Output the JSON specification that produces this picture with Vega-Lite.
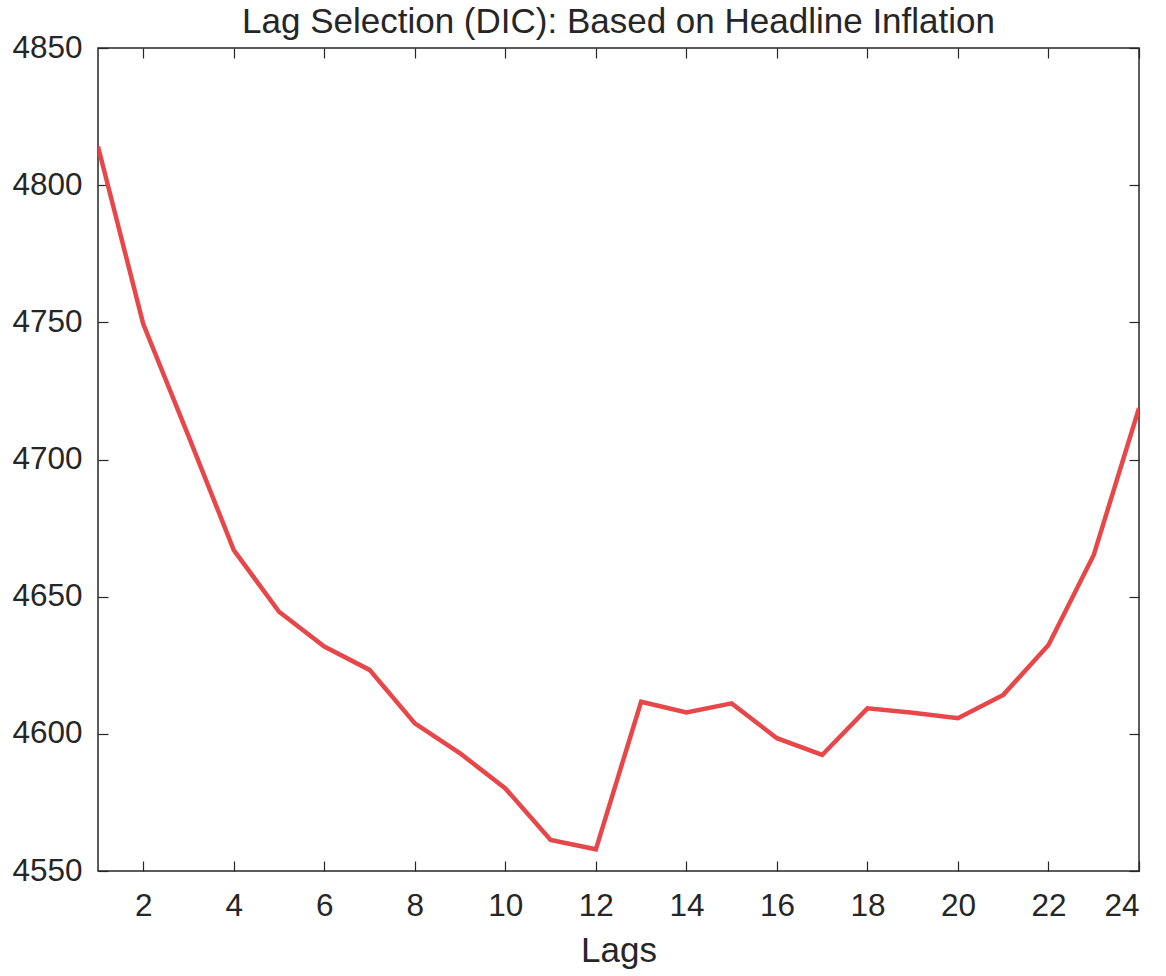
{
  "$schema": "https://vega.github.io/schema/vega-lite/v6.json",
  "autosize": {"type": "none"},
  "padding": {"left": 98, "top": 48, "right": 27, "bottom": 105},
  "width": 1041,
  "height": 823,
  "background": "white",
  "title": {
    "text": "Lag Selection (DIC): Based on Headline Inflation",
    "font": "Liberation Sans",
    "fontSize": 35,
    "fontWeight": "normal",
    "color": "#262626",
    "anchor": "middle",
    "frame": "group",
    "baseline": "alphabetic",
    "offset": -36
  },
  "config": {
    "view": {"stroke": "#262626", "strokeWidth": 1.5},
    "axis": {
      "labelFont": "Liberation Sans",
      "labelFontSize": 31.5,
      "labelColor": "#262626",
      "titleFont": "Liberation Sans",
      "titleFontSize": 35,
      "titleFontWeight": "normal",
      "titleColor": "#262626",
      "tickColor": "#262626",
      "tickWidth": 1.2,
      "tickSize": -10,
      "domain": false,
      "grid": false,
      "format": "d",
      "minExtent": 0
    }
  },
  "data": {
    "values": [
      {"lag": 1, "dic": 4814.1},
      {"lag": 2, "dic": 4749.4},
      {"lag": 3, "dic": 4708.5},
      {"lag": 4, "dic": 4667.0},
      {"lag": 5, "dic": 4644.5},
      {"lag": 6, "dic": 4631.8},
      {"lag": 7, "dic": 4623.3},
      {"lag": 8, "dic": 4603.8},
      {"lag": 9, "dic": 4592.9},
      {"lag": 10, "dic": 4580.1},
      {"lag": 11, "dic": 4561.3},
      {"lag": 12, "dic": 4557.9},
      {"lag": 13, "dic": 4611.7},
      {"lag": 14, "dic": 4607.8},
      {"lag": 15, "dic": 4611.1},
      {"lag": 16, "dic": 4598.4},
      {"lag": 17, "dic": 4592.3},
      {"lag": 18, "dic": 4609.3},
      {"lag": 19, "dic": 4607.7},
      {"lag": 20, "dic": 4605.7},
      {"lag": 21, "dic": 4614.2},
      {"lag": 22, "dic": 4632.4},
      {"lag": 23, "dic": 4665.2},
      {"lag": 24, "dic": 4718.7}
    ]
  },
  "layer": [
    {
      "mark": {"type": "line", "color": "#e8474a", "strokeWidth": 4.5, "clip": true},
      "encoding": {
        "x": {
          "field": "lag", "type": "quantitative",
          "scale": {"domain": [1, 24], "nice": false, "zero": false},
          "axis": {"orient": "bottom", "title": "Lags", "values": [2,4,6,8,10,12,14,16,18,20,22,24], "labelPadding": 29, "titlePadding": 12}
        },
        "y": {
          "field": "dic", "type": "quantitative",
          "scale": {"domain": [4550, 4850], "nice": false, "zero": false},
          "axis": {"orient": "left", "title": null, "values": [4550,4600,4650,4700,4750,4800,4850], "labelPadding": 26}
        }
      }
    },
    {
      "mark": {"type": "line", "opacity": 0},
      "encoding": {
        "x": {
          "field": "lag", "type": "quantitative",
          "scale": {"domain": [1, 24], "nice": false, "zero": false},
          "axis": {"orient": "top", "title": null, "labels": false, "values": [2,4,6,8,10,12,14,16,18,20,22,24]}
        },
        "y": {
          "field": "dic", "type": "quantitative",
          "scale": {"domain": [4550, 4850], "nice": false, "zero": false},
          "axis": {"orient": "right", "title": null, "labels": false, "values": [4550,4600,4650,4700,4750,4800,4850]}
        }
      }
    }
  ],
  "resolve": {"axis": {"x": "independent", "y": "independent"}}
}
